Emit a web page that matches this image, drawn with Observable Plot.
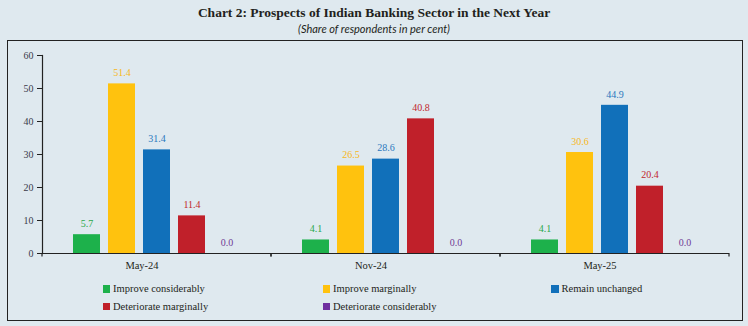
<!DOCTYPE html>
<html><head><meta charset="utf-8">
<script src="https://cdn.jsdelivr.net/npm/d3@7"></script>
<script src="https://cdn.jsdelivr.net/npm/@observablehq/plot@0.6"></script>
<style>
body{margin:0;background:#dfe9ef;}
#wrap{position:relative;width:748px;height:326px;background:#dfe9ef;overflow:hidden;font-family:'Liberation Serif',serif;color:#231f20;}
#title{position:absolute;left:0;width:748px;top:5px;line-height:16px;text-align:center;font-weight:bold;font-size:13.5px;font-family:'Liberation Serif',serif;}
#subtitle{position:absolute;left:0;width:748px;top:23px;line-height:12px;text-align:center;font-style:italic;font-size:11px;font-family:'Lato',sans-serif;}
#box{position:absolute;left:7px;top:40px;width:736px;height:281px;border:1.4px solid #222;box-sizing:border-box;}
#chart{position:absolute;left:0;top:40px;}
.leg{position:absolute;height:14px;line-height:14px;font-size:10.5px;font-family:'Liberation Serif',serif;display:flex;align-items:center;white-space:nowrap;}
.sw{width:7.5px;height:7.5px;margin-right:3px;flex:none;}
</style></head>
<body>
<div id="wrap">
  <div id="title">Chart 2: Prospects of Indian Banking Sector in the Next Year</div>
  <div id="subtitle">(Share of respondents in per cent)</div>
  <div id="box"></div>
  <div id="chart"></div>
  <div id="legend"></div>
</div>
<script>
const groups = ["May-24", "Nov-24", "May-25"];
const series = ["Improve considerably", "Improve marginally", "Remain unchanged", "Deteriorate marginally", "Deteriorate considerably"];
const valuesMay24 = [5.7, 51.4, 31.4, 11.4, 0.0];
const valuesNov24 = [4.1, 26.5, 28.6, 40.8, 0.0];
const valuesMay25 = [4.1, 30.6, 44.9, 20.4, 0.0];
const barColors = ["#1db14b", "#ffc20e", "#1170ba", "#c0202a", "#7030a0"];
const labelColors = ["#2aa84a", "#f7b71a", "#2a78bd", "#c1272d", "#6f3c96"];
const yTicks = [0, 10, 20, 30, 40, 50, 60];

const byGroup = [valuesMay24, valuesNov24, valuesMay25];
const data = groups.flatMap((g, i) => series.map((s, j) => ({group: g, series: s, value: byGroup[i][j]})));

function boundaryTicks(index, scales, values, dims, context) {
  const ns = "http://www.w3.org/2000/svg";
  const doc = context.document;
  const g = doc.createElementNS(ns, "g");
  const y0 = dims.height - dims.marginBottom;
  for (const x of [dims.marginLeft, dims.width - dims.marginRight]) {
    const l = doc.createElementNS(ns, "line");
    l.setAttribute("x1", x); l.setAttribute("x2", x);
    l.setAttribute("y1", y0); l.setAttribute("y2", y0 + 3.5);
    l.setAttribute("stroke", "#222"); l.setAttribute("stroke-width", 1.2);
    g.appendChild(l);
  }
  return g;
}

const chart = Plot.plot({
  width: 748, height: 240,
  marginTop: 15, marginBottom: 27, marginLeft: 41, marginRight: 19,
  style: {background: "transparent", fontFamily: "'Liberation Serif', serif", fontSize: "10px", color: "#231f20"},
  fx: {domain: groups, padding: 0, label: null},
  x: {domain: series, paddingInner: 0.22, paddingOuter: 0.87, axis: null},
  y: {domain: [0, 60], label: null},
  color: {domain: series, range: barColors},
  marks: [
    Plot.barY(data, {fx: "group", x: "series", y: "value", fill: "series"}),
    ...series.map((s, j) => Plot.text(data, {
      filter: d => d.series === s, fx: "group", x: "series", y: "value",
      text: d => d.value.toFixed(1), dy: -11, fill: labelColors[j], fontSize: 10
    })),
    Plot.ruleY([0], {stroke: "#222", strokeWidth: 1.2}),
    Plot.frame({anchor: "left", facetAnchor: "left", stroke: "#222", strokeWidth: 1.2}),
    Plot.axisY({ticks: yTicks, tickSize: 5, tickPadding: 4, tickFormat: d => d, label: null, stroke: "#222", fill: "#3a3a4a", fontSize: 10}),
    Plot.axisFx({anchor: "bottom", tickSize: 0, tickPadding: 8, dx: -15, label: null, fontSize: 10.5, fill: "#231f20"}),
    boundaryTicks
  ]
});
document.getElementById("chart").appendChild(chart);

const legendX = [102.5, 322.5, 551];
const legendY = [289, 306.5];
const legend = document.getElementById("legend");
series.forEach((s, j) => {
  const item = document.createElement("div");
  item.className = "leg";
  item.style.left = legendX[j % 3] + "px";
  item.style.top = (legendY[Math.floor(j / 3)] - 7) + "px";
  const sw = document.createElement("span");
  sw.className = "sw";
  sw.style.background = barColors[j];
  const t = document.createElement("span");
  t.textContent = s;
  item.appendChild(sw); item.appendChild(t);
  legend.appendChild(item);
});
</script>
</body></html>
